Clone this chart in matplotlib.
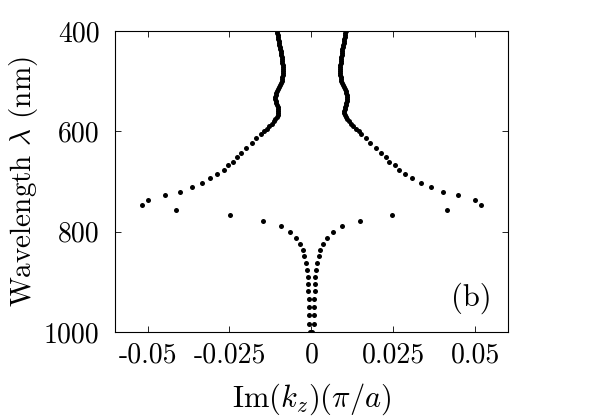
import numpy as np
import matplotlib
matplotlib.use("Agg")
import matplotlib.pyplot as plt

plt.rcParams['font.family'] = 'cmr10'
plt.rcParams['mathtext.fontset'] = 'cm'
plt.rcParams['axes.unicode_minus'] = False

# rama superior (modos que salen de k_z ~ +-0.01), |Im(k_z)| en unidades de pi/a
lam_sup = [400, 404, 408, 412, 416, 420, 424, 428, 432, 436, 440, 444, 448, 452,
           456, 460, 464, 468, 472, 476, 480, 484, 488, 492, 496, 500, 504, 508,
           512, 516, 520, 524, 528, 532, 536, 540, 544, 548, 552, 556, 560, 564,
           568, 572, 576, 580, 585, 590, 595, 600, 605,
           614, 623, 634, 644, 652, 661, 668, 676, 684, 692, 702, 710, 720,
           727.5, 737.5, 747.5]
im_sup = [0.0105, 0.0104, 0.0103, 0.0102, 0.0101, 0.0100, 0.0099, 0.0098, 0.0097,
          0.0095, 0.0094, 0.0093, 0.0092, 0.0091, 0.0090, 0.0089, 0.0089, 0.0088,
          0.0088, 0.0088, 0.0088, 0.0088, 0.0088, 0.0089, 0.0090, 0.0091, 0.0093,
          0.0096, 0.0099, 0.0102, 0.0105, 0.0107, 0.0109, 0.0110, 0.0110, 0.0109,
          0.0107, 0.0105, 0.0103, 0.0102, 0.0101, 0.0101, 0.0102, 0.0105, 0.0110,
          0.0115, 0.0121, 0.0128, 0.0136, 0.0145, 0.0153,
          0.0168, 0.0180, 0.0198, 0.0214, 0.0227, 0.0238, 0.0254, 0.0268, 0.0287,
          0.0308, 0.0335, 0.0365, 0.0402, 0.0447, 0.0499, 0.0517]

# rama inferior (se cierra hacia k_z = 0)
lam_inf = [757, 767, 779, 789, 801, 813, 825, 837, 849, 863, 876, 891, 904, 918,
           934, 950, 966, 984, 1000]
im_inf = [0.0414, 0.0247, 0.0147, 0.0092, 0.0065, 0.0047, 0.0034, 0.0025, 0.0022,
          0.0016, 0.0013, 0.0010, 0.0010, 0.0010, 0.0007, 0.0007, 0.0007, 0.0007,
          0.0003]

xticks = [-0.05, -0.025, 0, 0.025, 0.05]
xtick_labels = ['-0.05', '-0.025', '0', '0.025', '0.05']
yticks = [400, 600, 800, 1000]

fig = plt.figure(figsize=(6.04, 4.2), dpi=100)
ax = fig.add_axes([0.190, 0.2095, 0.651, 0.7165])

for signo in (-1, 1):
    ax.plot(signo * np.array(im_sup), lam_sup, 'o', color='k', markersize=3.6,
            markeredgewidth=0)
    ax.plot(signo * np.array(im_inf), lam_inf, 'o', color='k', markersize=3.6,
            markeredgewidth=0)

ax.set_xlim(-0.06, 0.06)
ax.set_ylim(1000, 400)
ax.set_xticks(xticks)
ax.set_xticklabels(xtick_labels)
ax.set_yticks(yticks)
ax.tick_params(direction='in', top=True, right=True, length=4, width=0.6,
               labelsize=20)
ax.tick_params(axis='x', pad=7)
ax.tick_params(axis='y', pad=11)
for s in ax.spines.values():
    s.set_linewidth(0.8)

ax.set_xlabel(r'$\mathrm{Im}(k_z)(\pi/a)$', fontsize=22, labelpad=10)
ax.set_ylabel(r'Wavelength $\lambda$ (nm)', fontsize=21, labelpad=3)
ax.text(0.908, 0.113, '(b)', transform=ax.transAxes, fontsize=22,
        ha='center', va='center')

fig.savefig('out.png', dpi=100)
